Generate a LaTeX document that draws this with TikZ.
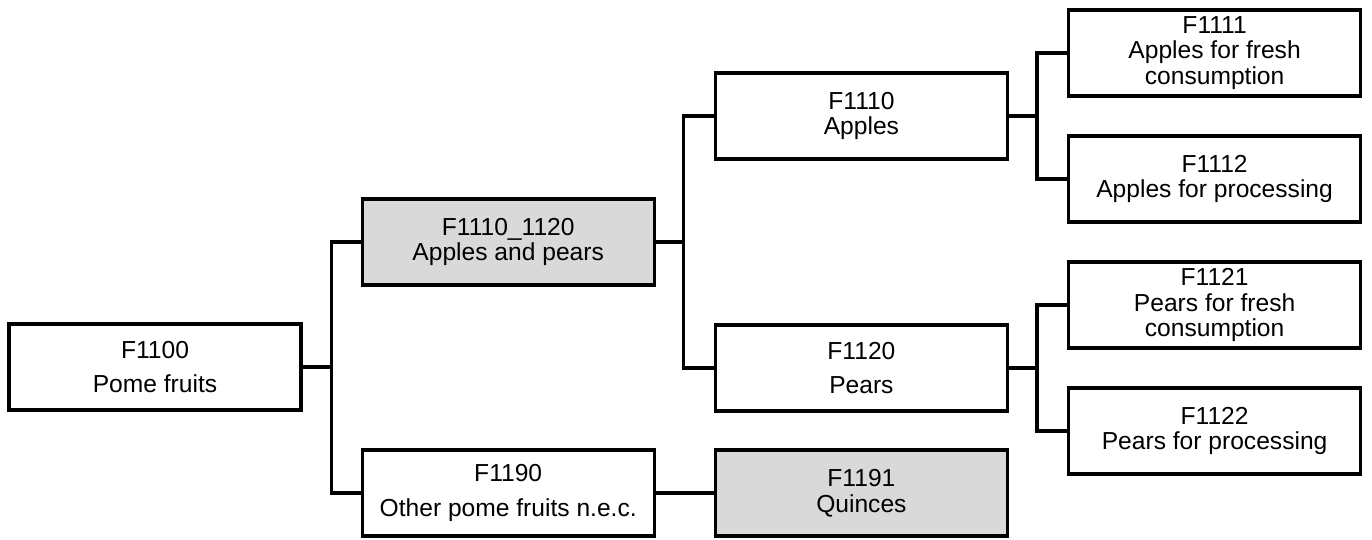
\documentclass[tikz,border=0pt]{standalone}
\usepackage{fontspec}
\setmainfont{Liberation Sans}
\usetikzlibrary{positioning}
\definecolor{boxgray}{HTML}{D9D9D9}
\begin{document}
\begin{tikzpicture}[node distance=58pt, auto,
    box/.style={draw, rectangle, line width=3.2pt, minimum width=292pt, minimum height=86pt,
        align=center, inner sep=2pt, font=\fontsize{24.6}{25.5}\selectfont},
    graybox/.style={box, fill=boxgray},
    link/.style={line width=3.2pt}]
    \useasboundingbox (0,0) rectangle (1372pt,-539pt);
    % Nodes
    \node[box] (pome) at (155pt,-367pt) {F1100\\[9pt]Pome fruits};
    \node[graybox, right=of pome, yshift=125pt] (applespears) {F1110\_1120\\Apples and pears};
    \node[box, right=of pome, yshift=-126pt] (other) {F1190\\[9pt]Other pome fruits n.e.c.};
    \node[box, right=of applespears, yshift=126pt] (apples) {F1110\\Apples};
    \node[box, right=of applespears, yshift=-126pt] (pears) {F1120\\[9pt]Pears};
    \node[graybox, right=of other] (quinces) {F1191\\Quinces};
    \node[box, right=of apples, yshift=63pt] (applesfresh) {F1111\\Apples for fresh\\consumption};
    \node[box, right=of apples, yshift=-63pt] (applesproc) {F1112\\Apples for processing};
    \node[box, right=of pears, yshift=63pt] (pearsfresh) {F1121\\Pears for fresh\\consumption};
    \node[box, right=of pears, yshift=-63pt] (pearsproc) {F1122\\Pears for processing};

    % Lines
    \draw[link] (pome.east) -- ++(29pt,0) |- (applespears.west);
    \draw[link] (pome.east) -- ++(29pt,0) |- (other.west);
    \draw[link] (applespears.east) -- ++(28pt,0) |- (apples.west);
    \draw[link] (applespears.east) -- ++(28pt,0) |- (pears.west);
    \draw[link] (apples.east) -- ++(28pt,0) |- (applesfresh.west);
    \draw[link] (apples.east) -- ++(28pt,0) |- (applesproc.west);
    \draw[link] (pears.east) -- ++(28pt,0) |- (pearsfresh.west);
    \draw[link] (pears.east) -- ++(28pt,0) |- (pearsproc.west);
    \draw[link] (other) -- (quinces);
\end{tikzpicture}
\end{document}
